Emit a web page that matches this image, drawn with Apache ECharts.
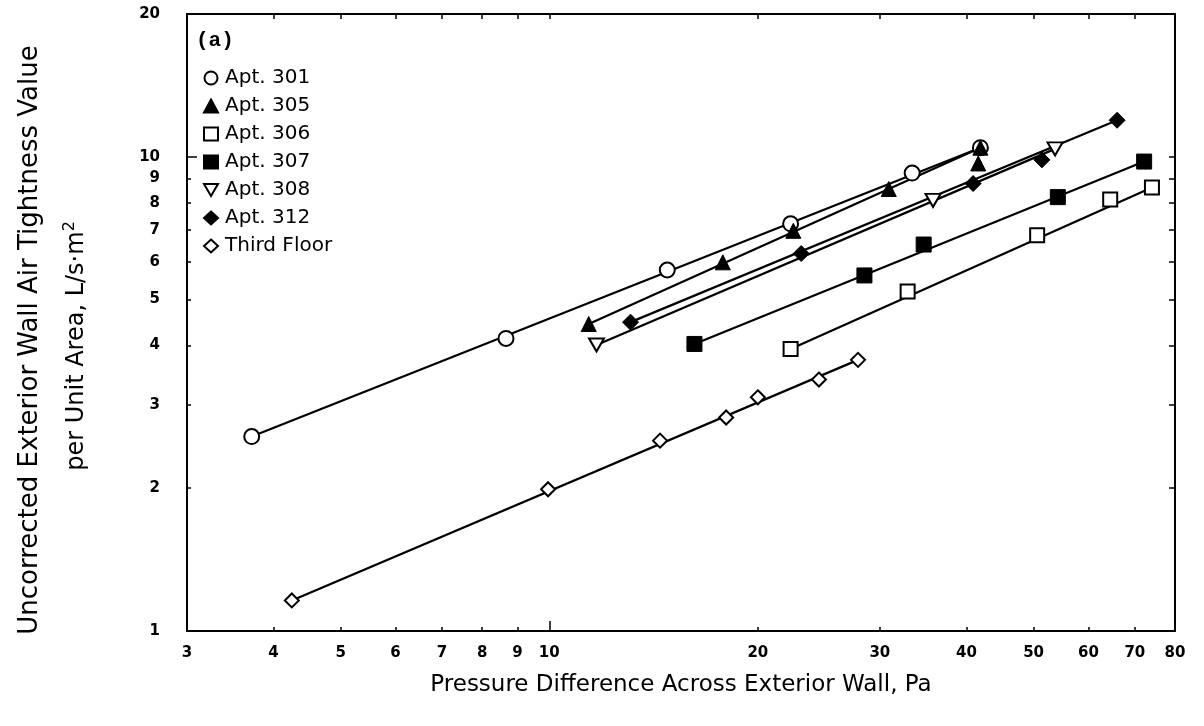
<!DOCTYPE html>
<html>
<head>
<meta charset="utf-8">
<script src="https://cdn.jsdelivr.net/npm/echarts@6/dist/echarts.min.js"></script>
<style>
  html, body { margin: 0; padding: 0; background: #ffffff; }
  #chart { width: 1204px; height: 726px; }
</style>
</head>
<body>
<div id="chart"></div>
<script>
// Air tightness per unit wall area vs. pressure difference (log-log)
const seriesNames = ['Apt. 301', 'Apt. 305', 'Apt. 306', 'Apt. 307', 'Apt. 308', 'Apt. 312', 'Third Floor'];

// [pressure difference (Pa), air tightness (L/s·m²)], sorted by pressure
const apt301 = [[3.72, 2.57], [8.66, 4.14], [14.8, 5.77], [22.3, 7.22], [33.4, 9.24], [41.9, 10.45]];
const apt305 = [[11.4, 4.44], [17.8, 5.99], [22.5, 6.98], [30.9, 8.55], [41.6, 9.68], [41.9, 10.45]];
const apt306 = [[22.3, 3.93], [32.9, 5.20], [50.6, 6.83], [64.5, 8.13], [74.1, 8.61]];
const apt307 = [[16.2, 4.03], [28.5, 5.62], [34.7, 6.53], [54.2, 8.22], [72.2, 9.77]];
const apt308 = [[11.7, 4.01], [35.8, 8.09], [53.7, 10.39]];
const apt312 = [[13.1, 4.48], [23.1, 6.25], [40.9, 8.78], [51.4, 9.85], [66.0, 11.94]];
const thirdFloor = [[4.25, 1.16], [9.96, 1.99], [14.45, 2.52], [18.0, 2.82], [20.0, 3.11], [24.5, 3.39], [27.9, 3.73]];

const xTicks = [3, 4, 5, 6, 7, 8, 9, 10, 20, 30, 40, 50, 60, 70, 80];
const yTicks = [1, 2, 3, 4, 5, 6, 7, 8, 9, 10, 20];
const majorTicks = [10];

const downTriangle = 'path://M0,0L10,0L5,8.66Z';

const open = { color: '#ffffff', borderColor: '#000000', borderWidth: 2, opacity: 1 };
const filled = { color: '#000000', borderColor: '#000000', borderWidth: 1, opacity: 1 };

const seriesDefs = [
  { data: apt301, symbol: 'circle', size: 15, style: open },
  { data: apt305, symbol: 'triangle', size: 15, style: filled },
  { data: apt306, symbol: 'rect', size: 14, style: open },
  { data: apt307, symbol: 'rect', size: 15, style: filled },
  { data: apt308, symbol: downTriangle, size: [15, 13], style: open },
  { data: apt312, symbol: 'diamond', size: 16, style: filled },
  { data: thirdFloor, symbol: 'diamond', size: 14, style: open }
];

const tickFont = { fontFamily: 'DejaVu Sans', fontWeight: 'bold', fontSize: 15, color: '#000000' };
const fmt = v => String(Math.round(v * 100) / 100);

function logAxis(extra) {
  return Object.assign({
    type: 'log',
    logBase: 10,
    splitLine: { show: false },
    minorTick: { show: false },
    minorSplitLine: { show: false }
  }, extra);
}

const xAxes = [
  logAxis({
    min: 3, max: 80, position: 'bottom',
    axisLine: { show: true, onZero: false, lineStyle: { color: '#000', width: 2 } },
    axisTick: { show: true, inside: true, length: 4, customValues: xTicks, lineStyle: { color: '#000', width: 1.5 } },
    axisLabel: Object.assign({ show: true, customValues: xTicks, margin: 15, formatter: fmt, hideOverlap: false }, tickFont),
    name: 'Pressure Difference Across Exterior Wall, Pa',
    nameLocation: 'middle',
    nameGap: 43,
    nameTextStyle: { fontFamily: 'DejaVu Sans', fontSize: 23, color: '#000' }
  }),
  logAxis({
    min: 3, max: 80, position: 'top',
    axisLine: { show: true, onZero: false, lineStyle: { color: '#000', width: 2 } },
    axisTick: { show: true, inside: true, length: 5, customValues: xTicks, lineStyle: { color: '#000', width: 1.5 } },
    axisLabel: { show: false }
  }),
  logAxis({
    min: 3, max: 80, position: 'bottom',
    axisLine: { show: false },
    axisTick: { show: true, inside: true, length: 10, customValues: majorTicks, lineStyle: { color: '#000', width: 1.5 } },
    axisLabel: { show: false }
  })
];

const yAxes = [
  logAxis({
    min: 1, max: 20, position: 'left',
    axisLine: { show: true, onZero: false, lineStyle: { color: '#000', width: 2 } },
    axisTick: { show: true, inside: true, length: 4, customValues: yTicks, lineStyle: { color: '#000', width: 1.5 } },
    axisLabel: Object.assign({ show: true, customValues: yTicks, margin: 27, formatter: fmt, hideOverlap: false }, tickFont)
  }),
  logAxis({
    min: 1, max: 20, position: 'right',
    axisLine: { show: true, onZero: false, lineStyle: { color: '#000', width: 2 } },
    axisTick: { show: true, inside: true, length: 6, customValues: yTicks, lineStyle: { color: '#000', width: 1.5 } },
    axisLabel: { show: false }
  }),
  logAxis({
    min: 1, max: 20, position: 'left',
    axisLine: { show: false },
    axisTick: { show: true, inside: true, length: 10, customValues: majorTicks, lineStyle: { color: '#000', width: 1.5 } },
    axisLabel: { show: false }
  })
];

// straight trend line across each data set's pressure range (first to last measurement)
const lineSeries = seriesDefs.map((d, i) => ({
  name: seriesNames[i] + ' line',
  type: 'line',
  xAxisIndex: 0,
  yAxisIndex: 0,
  data: [d.data[0], d.data[d.data.length - 1]],
  symbol: 'none',
  lineStyle: { color: '#000000', width: 2.2 },
  emphasis: { disabled: true },
  silent: true,
  z: 2
}));

const markerSeries = seriesDefs.map((d, i) => ({
  name: seriesNames[i],
  type: 'scatter',
  xAxisIndex: 0,
  yAxisIndex: 0,
  data: d.data,
  symbol: d.symbol,
  symbolSize: d.size,
  itemStyle: d.style,
  emphasis: { disabled: true },
  z: 3 + i
}));

const legendIcons = ['circle', 'triangle', 'rect', 'rect', downTriangle, 'diamond', 'diamond'];

const chart = echarts.init(document.getElementById('chart'), null, { renderer: 'canvas' });
chart.setOption({
  animation: false,
  backgroundColor: '#ffffff',
  grid: { left: 187, right: 29, top: 14, bottom: 95, containLabel: false },
  xAxis: xAxes,
  yAxis: yAxes,
  legend: {
    orient: 'vertical',
    left: 198,
    top: 63,
    itemWidth: 14,
    itemHeight: 13,
    itemGap: 8,
    selectedMode: false,
    data: seriesNames.map((n, i) => ({ name: n, icon: legendIcons[i] })),
    textStyle: { fontFamily: 'DejaVu Sans', fontSize: 20, lineHeight: 20, color: '#000', padding: [0, 0, 0, 2] }
  },
  graphic: [
    {
      type: 'text', left: 196, top: 30,
      style: { text: '(a)', font: 'bold 21px "Liberation Mono"', fill: '#000' }
    },
    {
      type: 'text', x: 30, y: 340, rotation: Math.PI / 2,
      style: {
        text: 'Uncorrected Exterior Wall Air Tightness Value',
        font: '26px "DejaVu Sans"', fill: '#000', align: 'center', verticalAlign: 'middle'
      }
    },
    {
      type: 'text', x: 77, y: 346, rotation: Math.PI / 2,
      style: {
        text: '{t|per Unit Area, L/s·m}{s|2}',
        align: 'center', verticalAlign: 'middle',
        rich: {
          t: { font: '24px "DejaVu Sans"', fill: '#000', lineHeight: 30 },
          s: { font: '16px "DejaVu Sans"', fill: '#000', verticalAlign: 'top', lineHeight: 16 }
        }
      }
    }
  ],
  series: lineSeries.concat(markerSeries)
});
</script>
</body>
</html>
